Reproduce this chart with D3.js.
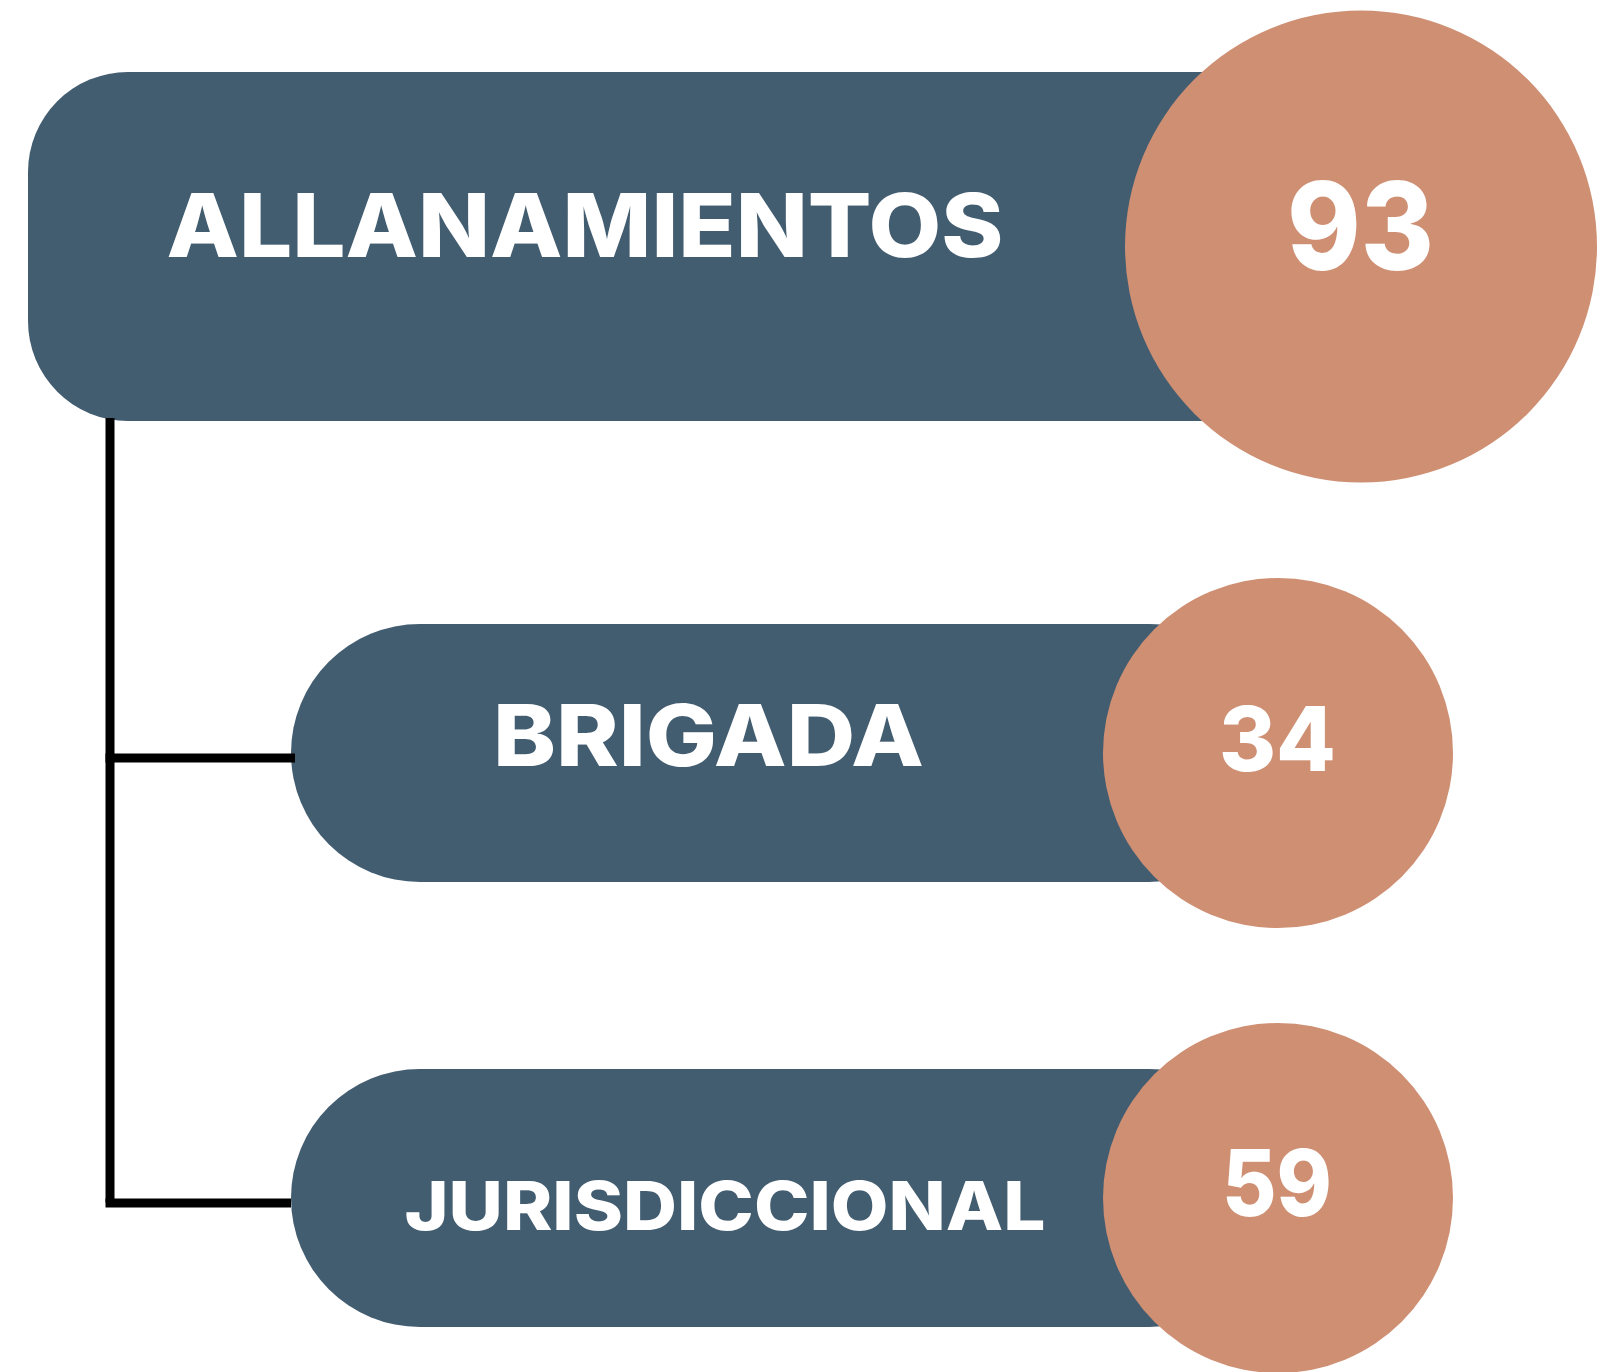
<!DOCTYPE html>
<html>
<head>
<meta charset="utf-8">
<script src="https://cdn.jsdelivr.net/npm/d3@7"></script>
<style>
    body { margin: 0; background: #fff; }
    svg { display: block; }
    text { font-family: Inter, "DejaVu Sans", sans-serif; fill: #fff; }
</style>
</head>
<body>
<svg id="chart" width="1614" height="1372"></svg>
<script>
// data
const categories = ["ALLANAMIENTOS", "BRIGADA", "JURISDICCIONAL"];
const values = [93, 34, 59];
const levels = [0, 1, 1]; // 0 = parent, 1 = child

// layout (per row)
const ROW_CENTER = [246.5, 753, 1198];
const BOX_LEFT = [28, 291, 291];
const BOX_HEIGHT = [349, 258, 258];
const BOX_RADIUS = [100, 129, 129];
const CIRCLE_X = [1361, 1278, 1278];
const CIRCLE_R = [236, 175, 175];

const LABEL_X = [585, 708.5, 725];
const LABEL_BASE = [257, 766, 1229.5];
const LABEL_SIZE = [88, 85, 67];
const LABEL_LEN = [837, 431, 641];

const VALUE_X = [1360.5, 1277.5, 1277];
const VALUE_BASE = [270, 770.5, 1215.5];
const VALUE_SIZE = [122, 89, 92];
const VALUE_LEN = [147, 117, 110];

const COLOR_BOX = "#425c70";
const COLOR_CIRCLE = "#ce8f73";
const LINE_X = 110;
const LINE_W = 9;

const svg = d3.select("#chart");

const rows = categories.map((c, i) => ({ name: c, value: values[i], level: levels[i], i }));

const yScale = d3.scaleOrdinal().domain(categories).range(ROW_CENTER);

// boxes
svg.selectAll("rect.box")
    .data(rows)
    .enter()
    .append("rect")
    .attr("class", "box")
    .attr("x", (d) => BOX_LEFT[d.i])
    .attr("y", (d) => yScale(d.name) - BOX_HEIGHT[d.i] / 2)
    .attr("width", (d) => CIRCLE_X[d.i] - BOX_LEFT[d.i])
    .attr("height", (d) => BOX_HEIGHT[d.i])
    .attr("rx", (d) => BOX_RADIUS[d.i])
    .style("fill", COLOR_BOX);

// connector
const parent = rows.find((d) => d.level == 0);
const children = rows.filter((d) => d.level == 1);
const lastChild = children[children.length - 1];
const g = svg.append("g").attr("class", "connector").style("stroke", "#000").style("stroke-width", LINE_W);

g.append("line")
    .attr("x1", LINE_X)
    .attr("x2", LINE_X)
    .attr("y1", yScale(parent.name) + BOX_HEIGHT[parent.i] / 2 - 3)
    .attr("y2", yScale(lastChild.name) + LINE_W / 2);

children.forEach((d, k) => {
    const y = yScale(d.name) + 5;
    g.append("line")
        .attr("x1", LINE_X - LINE_W / 2)
        .attr("x2", BOX_LEFT[d.i] + (k == 0 ? 4 : 0))
        .attr("y1", y)
        .attr("y2", y);
});

// circles
svg.selectAll("circle.val")
    .data(rows)
    .enter()
    .append("circle")
    .attr("class", "val")
    .attr("cx", (d) => CIRCLE_X[d.i])
    .attr("cy", (d) => yScale(d.name))
    .attr("r", (d) => CIRCLE_R[d.i])
    .style("fill", COLOR_CIRCLE);

// labels
svg.selectAll("text.label")
    .data(rows)
    .enter()
    .append("text")
    .attr("class", "label")
    .attr("x", (d) => LABEL_X[d.i])
    .attr("y", (d) => LABEL_BASE[d.i])
    .attr("text-anchor", "middle")
    .attr("textLength", (d) => LABEL_LEN[d.i])
    .attr("lengthAdjust", "spacingAndGlyphs")
    .style("font-size", (d) => LABEL_SIZE[d.i] + "px")
    .style("font-weight", 800)
    .text((d) => d.name);

svg.selectAll("text.value")
    .data(rows)
    .enter()
    .append("text")
    .attr("class", "value")
    .attr("x", (d) => VALUE_X[d.i])
    .attr("y", (d) => VALUE_BASE[d.i])
    .attr("text-anchor", "middle")
    .attr("textLength", (d) => VALUE_LEN[d.i])
    .attr("lengthAdjust", "spacingAndGlyphs")
    .style("font-size", (d) => VALUE_SIZE[d.i] + "px")
    .style("font-weight", 800)
    .text((d) => d.value);
</script>
</body>
</html>
